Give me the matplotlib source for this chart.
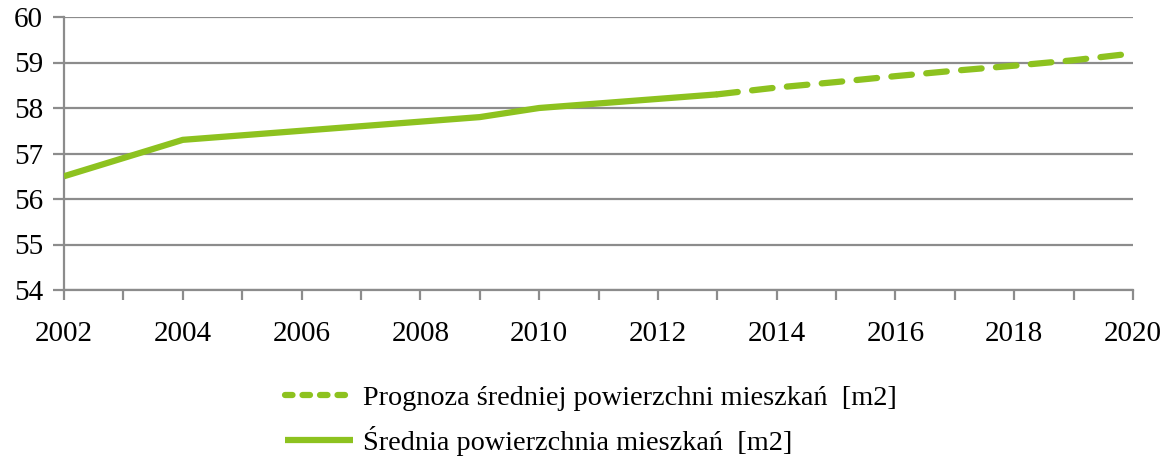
import matplotlib
matplotlib.use("Agg")
import matplotlib.pyplot as plt
from matplotlib.ticker import MultipleLocator
from matplotlib.lines import Line2D

years = [2002, 2003, 2004, 2005, 2006, 2007, 2008, 2009, 2010, 2011, 2012, 2013]
area = [56.5, 56.9, 57.3, 57.4, 57.5, 57.6, 57.7, 57.8, 58.0, 58.1, 58.2, 58.3]
fc_years = [2013, 2014, 2015, 2016, 2017, 2018, 2019, 2020]
fc_area = [58.3, 58.45, 58.57, 58.7, 58.82, 58.93, 59.05, 59.2]
label_fc = "Prognoza średniej powierzchni mieszkań  [m2]"
label_area = "Średnia powierzchnia mieszkań  [m2]"

green = "#8DC21F"
grid = "#8C8C8C"

plt.rcParams["font.family"] = ["Liberation Serif", "DejaVu Serif"]

fig = plt.figure(figsize=(11.7, 4.59), dpi=100)
ax = fig.add_axes([64/1170, 1-290/459, (1133-64)/1170, (290-17)/459])

ax.plot(fc_years, fc_area, color=green, lw=4.5, dashes=(3.3, 2.3),
        dash_capstyle="round", zorder=3)
ax.plot(years, area, color=green, lw=4.5, solid_capstyle="butt", zorder=4)

h1 = Line2D([], [], color=green, lw=4.5, dashes=(1.2, 1.6), dash_capstyle="round")
h2 = Line2D([], [], color=green, lw=4.5, solid_capstyle="butt")

ax.set_xlim(2002, 2020)
ax.set_ylim(54, 60)
ax.xaxis.set_major_locator(MultipleLocator(2))
ax.xaxis.set_minor_locator(MultipleLocator(1))
ax.yaxis.set_major_locator(MultipleLocator(1))
ax.grid(axis="y", color=grid, lw=1.6)
ax.set_axisbelow(True)
for s in ["top", "right"]:
    ax.spines[s].set_visible(False)
for s in ["left", "bottom"]:
    ax.spines[s].set_color(grid)
    ax.spines[s].set_linewidth(1.6)
ax.tick_params(axis="x", which="both", length=7, width=1.6, color=grid,
               labelsize=21, pad=15)
ax.tick_params(axis="y", which="both", length=8, width=1.6, color=grid,
               labelsize=21, pad=7)
ax.set_xticklabels([str(int(t)) for t in ax.get_xticks()])

fig.legend(handles=[h1, h2], labels=[label_fc, label_area], loc="upper left",
           bbox_to_anchor=(285/1170, 1-385/459),
           frameon=False, fontsize=20.3, handlelength=2.4, handletextpad=0.35,
           labelspacing=0.55, borderpad=0, borderaxespad=0)

fig.savefig("out.png", dpi=100)
